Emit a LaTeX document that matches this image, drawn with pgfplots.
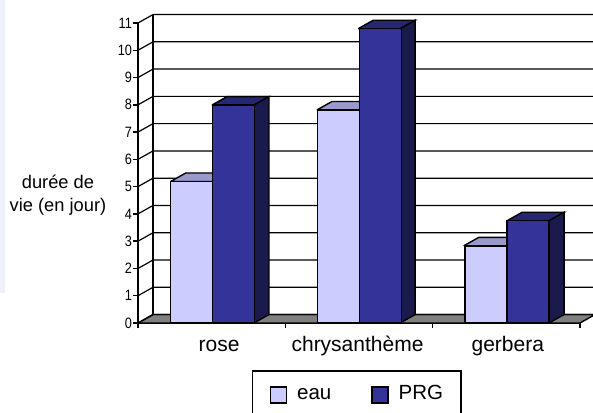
\documentclass[border=0pt]{standalone}
\usepackage{fontspec}
\setmainfont{Liberation Sans}
\usepackage{pgfplots}
\pgfplotsset{compat=1.18}
\definecolor{eaufront}{HTML}{CCCCFF}
\definecolor{eautop}{HTML}{9999CC}
\definecolor{prgfront}{HTML}{333399}
\definecolor{prgtop}{HTML}{262673}
\definecolor{prgside}{HTML}{1A1A4D}
\definecolor{strip}{HTML}{EEF1F9}
% 1pt here is one pixel of the reference
\pgfplotstableread{
x eau prg
0 5.19 7.99
1 7.81 10.79
2 2.83 3.75
}\durees
\begin{document}
\begin{tikzpicture}
\path[use as bounding box,clip] (-138pt,-89pt) rectangle (455pt,323pt);
\fill[strip] (-138pt,30pt) rectangle (-133pt,323pt);
\begin{axis}[
  scale only axis, width=442pt, height=300pt,
  xmin=-0.5, xmax=2.5, ymin=0, ymax=11,
  clip=false,
  axis y line*=left, axis x line*=bottom,
  axis line style={black, line width=1.4pt},
  tick style={black, line width=1.4pt},
  tick align=outside,
  major tick length=5pt,
  xtick={-0.5,0.5,1.5,2.5}, xticklabels={},
  extra x ticks={0.05,0.99,2.01},
  extra x tick labels={rose,chrysanthème,gerbera},
  extra x tick style={major tick length=0pt, tick label style={font=\fontsize{21}{24}\selectfont, text height=15pt, text depth=5pt, yshift=-10pt}},
  ytick={0,...,11},
  yticklabel style={font=\fontsize{15}{17}\selectfont, xscale=0.85, inner sep=1pt},
  /pgf/number format/assume math mode=true,
  ylabel={durée de\\vie (en jour)},
  ylabel style={rotate=-90, align=center, anchor=center, at={(axis description cs:-0.181,0.427)}, font=\fontsize{18.3}{23}\selectfont},
  legend columns=2,
  legend style={at={(axis description cs:0.258,-0.157)}, anchor=north west,
    draw=black, line width=1.4pt, inner xsep=17pt, inner ysep=13pt,
    font=\fontsize{20.5}{24}\selectfont,
    nodes={inner sep=1pt, anchor=base west},
    /tikz/every odd column/.append style={column sep=9pt},
    /tikz/every even column/.append style={column sep=39pt}},
  every axis plot/.append style={line width=1.4pt, line join=miter},
  sq/.style={legend image code/.code={\draw[##1, line width=1.4pt] (0pt,-4pt) rectangle (16pt,12pt);}},
]
% back wall and floor
\addplot[forget plot, fill=gray, draw=black] coordinates {(-0.5,0)(-0.398,0.31)(2.602,0.31)(2.5,0)(-0.5,0)};
\pgfplotsinvokeforeach{0,...,11}{
  \draw[black, line width=1.2pt] (axis cs:-0.5,#1) -- (axis cs:-0.398,#1+0.31) -- (axis cs:2.602,#1+0.31);
}
\draw[black, line width=1.4pt] (axis cs:-0.398,0.31) -- (axis cs:-0.398,11.31);
% eau: top faces
\addplot[forget plot, fill=eautop, draw=black] coordinates {(-0.278,5.19)(-0.176,5.50)(0.104,5.50)(0.002,5.19)(-0.278,5.19)};
\addplot[forget plot, fill=eautop, draw=black] coordinates {(0.714,7.81)(0.816,8.12)(1.096,8.12)(0.994,7.81)(0.714,7.81)};
\addplot[forget plot, fill=eautop, draw=black] coordinates {(1.711,2.83)(1.813,3.14)(2.107,3.14)(2.005,2.83)(1.711,2.83)};
\addplot[ybar, sq, bar width=0.285, bar shift=-0.1385, fill=eaufront, draw=black] table[x=x, y=eau] {\durees};
\addlegendentry{eau}
% PRG: top and side faces
\addplot[forget plot, fill=prgtop, draw=black] coordinates {(0.002,7.99)(0.104,8.30)(0.389,8.30)(0.287,7.99)(0.002,7.99)};
\addplot[forget plot, fill=prgside, draw=black] coordinates {(0.287,0)(0.389,0.31)(0.389,8.30)(0.287,7.99)(0.287,0)};
\addplot[forget plot, fill=prgtop, draw=black] coordinates {(0.994,10.79)(1.096,11.10)(1.381,11.10)(1.279,10.79)(0.994,10.79)};
\addplot[forget plot, fill=prgside, draw=black] coordinates {(1.279,0)(1.381,0.31)(1.381,11.10)(1.279,10.79)(1.279,0)};
\addplot[forget plot, fill=prgtop, draw=black] coordinates {(2.005,3.75)(2.107,4.06)(2.392,4.06)(2.290,3.75)(2.005,3.75)};
\addplot[forget plot, fill=prgside, draw=black] coordinates {(2.290,0)(2.392,0.31)(2.392,4.06)(2.290,3.75)(2.290,0)};
\addplot[ybar, sq, bar width=0.285, bar shift=0.1465, fill=prgfront, draw=black] table[x=x, y=prg] {\durees};
\addlegendentry{PRG}
\end{axis}
\end{tikzpicture}
\end{document}
